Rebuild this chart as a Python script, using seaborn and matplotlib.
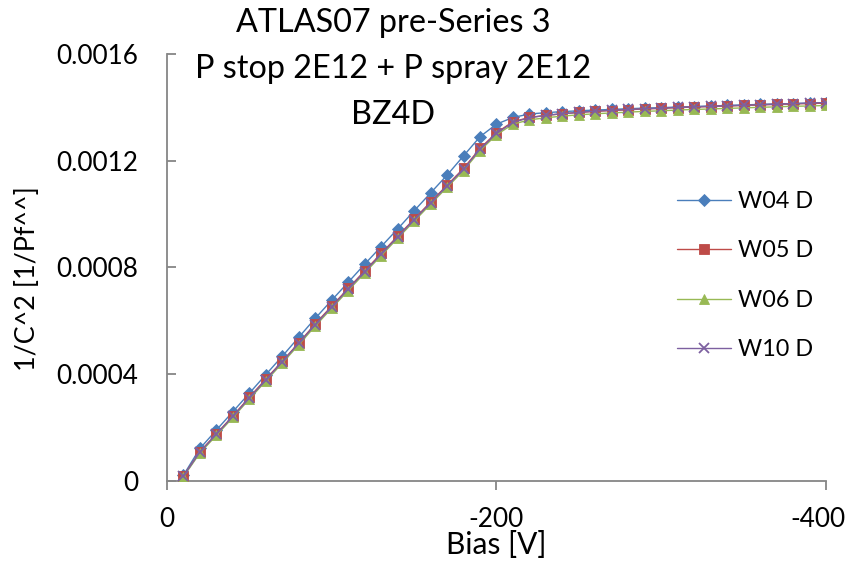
import matplotlib
matplotlib.use("Agg")
import matplotlib.pyplot as plt
from matplotlib.transforms import ScaledTranslation
import seaborn as sns
import pandas as pd

bias = [-10, -20, -30, -40, -50, -60, -70, -80, -90, -100,
        -110, -120, -130, -140, -150, -160, -170, -180, -190, -200,
        -210, -220, -230, -240, -250, -260, -270, -280, -290, -300,
        -310, -320, -330, -340, -350, -360, -370, -380, -390, -400]

w04 = [0.000021, 0.000121, 0.000190, 0.000259, 0.000328, 0.000398, 0.000467, 0.000538, 0.000609, 0.000677,
       0.000744, 0.000812, 0.000878, 0.000944, 0.001012, 0.001079, 0.001146, 0.001218, 0.001290, 0.001337,
       0.001362, 0.001375, 0.001380, 0.001384, 0.001387, 0.001390, 0.001392, 0.001395, 0.001397, 0.001399,
       0.001401, 0.001403, 0.001405, 0.001407, 0.001409, 0.001411, 0.001413, 0.001414, 0.001416, 0.001418]

w05 = [0.000018, 0.000109, 0.000176, 0.000243, 0.000313, 0.000381, 0.000448, 0.000517, 0.000588, 0.000655,
       0.000721, 0.000787, 0.000852, 0.000917, 0.000981, 0.001045, 0.001108, 0.001171, 0.001246, 0.001305,
       0.001346, 0.001362, 0.001370, 0.001376, 0.001381, 0.001385, 0.001388, 0.001391, 0.001394, 0.001396,
       0.001399, 0.001401, 0.001403, 0.001405, 0.001407, 0.001409, 0.001411, 0.001413, 0.001414, 0.001416]

w06 = [0.000015, 0.000104, 0.000170, 0.000237, 0.000306, 0.000374, 0.000441, 0.000510, 0.000580, 0.000647,
       0.000713, 0.000779, 0.000844, 0.000909, 0.000973, 0.001037, 0.001100, 0.001163, 0.001238, 0.001297,
       0.001337, 0.001353, 0.001361, 0.001367, 0.001372, 0.001376, 0.001379, 0.001382, 0.001385, 0.001387,
       0.001390, 0.001392, 0.001394, 0.001396, 0.001398, 0.001400, 0.001402, 0.001404, 0.001405, 0.001407]

w10 = [0.000017, 0.000108, 0.000174, 0.000241, 0.000310, 0.000378, 0.000446, 0.000515, 0.000585, 0.000652,
       0.000718, 0.000784, 0.000849, 0.000914, 0.000978, 0.001042, 0.001105, 0.001168, 0.001243, 0.001302,
       0.001344, 0.001361, 0.001370, 0.001376, 0.001381, 0.001386, 0.001389, 0.001392, 0.001395, 0.001397,
       0.001400, 0.001402, 0.001404, 0.001406, 0.001408, 0.001410, 0.001412, 0.001414, 0.001416, 0.001418]

series_names = ["W04 D", "W05 D", "W06 D", "W10 D"]
series_values = [w04, w05, w06, w10]

x_ticks = [0, -200, -400]
x_tick_labels = ["0", "-200", "-400"]
y_ticks = [0, 0.0004, 0.0008, 0.0012, 0.0016]
y_tick_labels = ["0", "0.0004", "0.0008", "0.0012", "0.0016"]

title_lines = ["ATLAS07 pre-Series 3", "P stop 2E12 + P spray 2E12", "BZ4D"]
x_label = "Bias [V]"
y_label = "1/C^2 [1/Pf^^]"

colors = ["#4A7EBB", "#BE4B48", "#98B954", "#7D60A0"]
markers = ["D", "s", "^", "x"]
msizes = [6.0, 6.5, 7.5, 6.5]

sns.set_theme(style="white")
plt.rcParams["font.family"] = ["Lato", "DejaVu Sans"]

fig = plt.figure(figsize=(8.5, 5.61), dpi=100)
ax = fig.add_axes([167 / 850, 1 - 480.7 / 561, 659 / 850, 426.7 / 561])

rows = []
for name, vals in zip(series_names, series_values):
    for b, v in zip(bias, vals):
        rows.append({"bias": b, "value": v, "series": name})
df = pd.DataFrame(rows)

for name, c, m, ms in zip(series_names, colors, markers, msizes):
    sub = df[df["series"] == name]
    sns.lineplot(data=sub, x="bias", y="value", ax=ax, color=c, marker=m,
                 markersize=ms, markeredgecolor=c, markeredgewidth=1.3 if m == "x" else 0.6,
                 linewidth=1.0, label=name, legend=False, sort=False, zorder=3)

ax.set_xlim(0, -400)
ax.set_ylim(0, 0.0016)
ax.set_xticks(x_ticks)
ax.set_xticklabels(x_tick_labels)
ax.set_yticks(y_ticks)
ax.set_yticklabels(y_tick_labels)

for side in ["top", "right"]:
    ax.spines[side].set_visible(False)
for side in ["left", "bottom"]:
    ax.spines[side].set_color("#868686")
    ax.spines[side].set_linewidth(1.3)

ax.tick_params(axis="y", direction="in", length=6.7, width=1.3, color="#868686",
               labelsize=18.8, pad=20.5, left=True, labelcolor="black")
ax.tick_params(axis="x", direction="out", length=6.2, width=1.3, color="#868686",
               labelsize=18.8, pad=13.0, bottom=True, labelcolor="black")
ax.grid(False)

# keep the right-most x tick label inside the figure, as the original does
last_lbl = ax.get_xticklabels()[-1]
last_lbl.set_transform(last_lbl.get_transform() + ScaledTranslation(-8 / 100, 0, fig.dpi_scale_trans))

ax.set_xlabel(x_label, fontsize=21.5, color="black")
ax.set_ylabel(y_label, fontsize=19.4, color="black")
ax.xaxis.set_label_coords(0.499, (480.7 - 554.5) / 426.7)
ax.xaxis.label.set_verticalalignment("baseline")
ax.yaxis.set_label_coords((27.5 - 167) / 659, (480.7 - 278.5) / 426.7)
ax.yaxis.label.set_verticalalignment("center")

for line, ypx in zip(title_lines, [23, 69, 115]):
    fig.text(393 / 850, 1 - ypx / 561, line, ha="center", va="center",
             fontsize=23.3, color="black")

handles = ax.get_lines()[:4]
leg = ax.legend(handles=handles, labels=series_names, loc="upper left",
                bbox_to_anchor=(677 / 850, 1 - 191 / 561), bbox_transform=fig.transFigure,
                frameon=False, fontsize=16.8, handlelength=2.3, handletextpad=0.3,
                labelspacing=1.22, borderpad=0, borderaxespad=0)
for t in leg.get_texts():
    t.set_color("black")

fig.savefig("out.png", dpi=100, facecolor="white")
